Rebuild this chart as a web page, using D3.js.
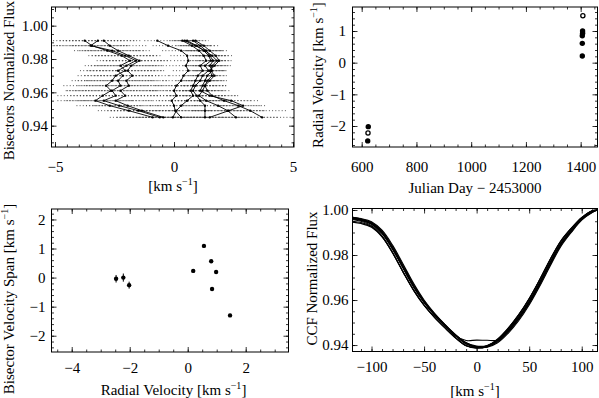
<!DOCTYPE html>
<html><head><meta charset="utf-8">
<script src="https://cdn.jsdelivr.net/npm/d3@7"></script>
<style>
html,body{margin:0;padding:0;background:#fff;}
svg{display:block;}
</style></head><body><svg id="c" width="599" height="398" style="font-family:'Liberation Serif','Times New Roman',serif;font-size:15px"></svg>
<script>
// ---------- DATA ----------
// Panel 1: line bisectors
const bisLevels = [0.991,0.988,0.985,0.982,0.979,0.976,0.973,0.970,0.967,0.964,0.961,0.958,0.955,0.952,0.949,0.945];
const bisA = [-3.75,-3.45,-2.8,-2.2,-1.85,-2.25,-2.05,-2.45,-2.6,-2.85,-2.65,-3.0,-3.3,-2.7,-1.9,-0.9];
const bisB = [-3.2,-3.5,-2.6,-2.05,-1.6,-2.0,-2.35,-2.15,-2.35,-2.25,-2.6,-2.45,-2.95,-2.3,-1.5,-0.6];
const bisC = [-2.95,-2.7,-2.35,-1.9,-1.45,-1.8,-1.95,-1.75,-2.0,-1.9,-2.25,-2.05,-2.45,-1.95,-1.35,-0.45];
const bisD = [-0.7,-0.25,0.3,0.55,0.6,0.5,0.6,0.4,0.3,0.1,0.0,0.1,-0.1,0.0,0.05,0.3];
const bisE = [0.35,0.75,1.05,1.25,1.35,1.1,1.2,1.0,0.9,0.8,0.7,0.8,0.55,0.3,0.1,-0.05];
const bisF = [0.55,0.95,1.25,1.45,1.55,1.3,1.45,1.2,1.1,0.9,0.8,0.95,1.1,1.3,1.3,1.3];
const bisG = [0.8,1.1,1.35,1.5,1.65,1.5,1.6,1.4,1.3,1.2,1.1,1.5,2.4,2.9,2.3,1.5];
const bisH = [0.9,1.25,1.5,1.75,1.9,1.7,1.5,1.6,1.4,1.3,1.2,1.05,1.35,1.85,2.25,2.6];
const bisI = [0.45,0.9,1.3,1.6,1.8,1.6,1.55,1.7,1.5,1.3,1.4,1.6,2.1,2.7,3.2,3.7];
const bisErrLeft  = [1.6,1.6,1.4,1.4,1.4,1.5,1.6,1.6,1.7,1.8,1.9,1.9,1.6,1.4,1.3,1.8];
const bisErrRight = [0.55,0.65,0.8,0.7,0.6,0.7,0.65,0.6,0.8,0.9,1.0,1.1,1.2,1.0,1.5,1.8];
const bisLeftGroup = [bisA, bisB, bisC];
const bisRightGroup = [bisD, bisE, bisF, bisG, bisH, bisI];
const bisXTicks = [-5, 0, 5];
const bisYTicks = [0.94, 0.96, 0.98, 1.00];

// Panel 2: radial velocity vs time
const rvJD   = [622, 623, 624, 1406, 1406, 1406, 1407, 1407, 1408];
const rvVal  = [-2.47, -2.22, -2.02, 0.21, 0.61, 0.85, 0.93, 1.00, 1.48];
const rvOpen = [false, true, false, false, false, false, false, false, true];
const rvXTicks = [600, 800, 1000, 1200, 1400];
const rvYTicks = [-2, -1, 0, 1];

// Panel 3: bisector velocity span vs RV
const bvsRV  = [-2.47, -2.22, -2.02, 0.19, 0.56, 0.81, 0.98, 0.84, 1.46];
const bvsVal = [-0.04, 0.00, -0.26, 0.23, 1.09, 0.56, 0.19, -0.39, -1.30];
const bvsErr = [0.13, 0.14, 0.12, 0.05, 0.06, 0.05, 0.05, 0.05, 0.05];
const bvsXTicks = [-4, -2, 0, 2];
const bvsYTicks = [-2, -1, 0, 1, 2];

// Panel 4: CCF profiles
const ccfV = [-118,-110,-100,-90,-80,-70,-60,-50,-40,-30,-20,-10,0,10,20,30,40,50,60,70,80,90,100,110,115];
const ccf1 = [0.9965,0.9958,0.9942,0.9902,0.9832,0.9748,0.9663,0.9592,0.9535,0.9486,0.9442,0.9406,0.9390,0.9393,0.9418,0.9462,0.9519,0.9589,0.9672,0.9762,0.9846,0.9906,0.9960,0.9991,1.0000];
const ccf2 = [0.9967,0.9960,0.9945,0.9906,0.9838,0.9754,0.9668,0.9596,0.9538,0.9489,0.9445,0.9409,0.9392,0.9392,0.9414,0.9457,0.9514,0.9584,0.9667,0.9757,0.9842,0.9903,0.9958,0.9990,1.0000];
const ccf3 = [0.9964,0.9957,0.9941,0.9900,0.9830,0.9745,0.9660,0.9590,0.9533,0.9485,0.9441,0.9405,0.9391,0.9396,0.9421,0.9466,0.9523,0.9593,0.9676,0.9766,0.9849,0.9909,0.9962,0.9992,1.0000];
const ccf4 = [0.9962,0.9955,0.9938,0.9897,0.9827,0.9742,0.9658,0.9589,0.9533,0.9486,0.9443,0.9410,0.9395,0.9398,0.9422,0.9467,0.9525,0.9596,0.9679,0.9769,0.9852,0.9911,0.9963,0.9993,1.0000];
const ccf5 = [0.9960,0.9953,0.9936,0.9895,0.9826,0.9742,0.9659,0.9591,0.9536,0.9489,0.9440,0.9420,0.9422,0.9421,0.9422,0.9462,0.9518,0.9588,0.9671,0.9762,0.9846,0.9908,0.9961,0.9997,1.0000];
const ccf6 = [0.9958,0.9950,0.9930,0.9885,0.9812,0.9726,0.9645,0.9578,0.9524,0.9477,0.9433,0.9398,0.9387,0.9395,0.9425,0.9474,0.9534,0.9606,0.9690,0.9780,0.9861,0.9918,0.9966,0.9995,1.0000];
const ccf7 = [0.9950,0.9944,0.9926,0.9882,0.9810,0.9725,0.9644,0.9577,0.9523,0.9476,0.9432,0.9397,0.9386,0.9394,0.9424,0.9472,0.9532,0.9604,0.9688,0.9778,0.9859,0.9916,0.9965,0.9996,1.0000];
const ccf8 = [0.9946,0.9940,0.9923,0.9880,0.9809,0.9724,0.9643,0.9576,0.9522,0.9475,0.9431,0.9397,0.9388,0.9397,0.9427,0.9475,0.9535,0.9607,0.9691,0.9781,0.9862,0.9919,0.9967,0.9997,1.0000];
const ccf9 = [0.9968,0.9962,0.9948,0.9910,0.9844,0.9760,0.9674,0.9600,0.9541,0.9491,0.9446,0.9410,0.9391,0.9390,0.9410,0.9452,0.9508,0.9578,0.9661,0.9751,0.9837,0.9900,0.9955,0.9989,1.0000];
const ccfCurves = [ccf1, ccf2, ccf3, ccf4, ccf5, ccf6, ccf7, ccf8, ccf9];
const ccfXTicks = [-100, -50, 0, 50, 100];
const ccfYTicks = [0.94, 0.96, 0.98, 1.00];

// ---------- DRAWING ----------
const FONT = "'Liberation Serif','Times New Roman',serif";
const svg = d3.select("#c");
svg.append("rect").attr("width", 599).attr("height", 398).attr("fill", "#fff");

let clipId = 0;
function makePanel(o) {
  const x = d3.scaleLinear().domain(o.xd).range([o.L, o.R]);
  const y = d3.scaleLinear().domain(o.yd).range([o.B, o.T]);
  const g = svg.append("g");
  const cid = "clip" + (clipId++);
  svg.append("clipPath").attr("id", cid).append("rect")
     .attr("x", o.L).attr("y", o.T).attr("width", o.R - o.L).attr("height", o.B - o.T);
  const plot = g.append("g").attr("clip-path", `url(#${cid})`);
  const add = (axis, tr) => {
    const a = g.append("g").attr("transform", tr).call(axis);
    a.select(".domain").remove();
    a.attr("font-size", null).attr("font-family", null);
    a.selectAll("line").attr("stroke", "#000").attr("stroke-width", 0.8);
    a.selectAll("text").style("font-family", FONT).style("font-size", "15px").attr("fill", "#000");
    return a;
  };
  const xMinor = d3.range(o.xMinorStart, o.xd[1] + 1e-9, o.xMinorStep);
  const yMinor = d3.range(o.yMinorStart, o.yd[1] + 1e-9, o.yMinorStep);
  add(d3.axisBottom(x).tickValues(o.xMajor).tickSize(-5).tickPadding(o.xpad).tickFormat(o.xfmt), `translate(0,${o.B})`);
  add(d3.axisBottom(x).tickValues(xMinor).tickSize(-2.5).tickFormat(""), `translate(0,${o.B})`);
  add(d3.axisTop(x).tickValues(o.xMajor).tickSize(-5).tickFormat(""), `translate(0,${o.T})`);
  add(d3.axisTop(x).tickValues(xMinor).tickSize(-2.5).tickFormat(""), `translate(0,${o.T})`);
  add(d3.axisLeft(y).tickValues(o.yMajor).tickSize(-5).tickPadding(o.ypad).tickFormat(o.yfmt), `translate(${o.L},0)`);
  add(d3.axisLeft(y).tickValues(yMinor).tickSize(-2.5).tickFormat(""), `translate(${o.L},0)`);
  add(d3.axisRight(y).tickValues(o.yMajor).tickSize(-5).tickFormat(""), `translate(${o.R},0)`);
  add(d3.axisRight(y).tickValues(yMinor).tickSize(-2.5).tickFormat(""), `translate(${o.R},0)`);
  g.append("rect").attr("x", o.L).attr("y", o.T).attr("width", o.R - o.L).attr("height", o.B - o.T)
   .attr("fill", "none").attr("stroke", "#000").attr("stroke-width", 1);
  return {x, y, g, plot};
}

function titleText(parent, x, y, pre, kms, post, rotate, size) {
  const t = parent.append("text").attr("text-anchor", "middle").attr("fill", "#000")
    .style("font-family", FONT).style("font-size", (size || 15) + "px")
    .attr("transform", rotate ? `translate(${x},${y}) rotate(-90)` : `translate(${x},${y})`);
  t.append("tspan").text(pre);
  if (kms) {
    t.append("tspan").text("[km s");
    t.append("tspan").style("font-size", "10px").attr("dy", -6).text("−1");
    t.append("tspan").attr("dy", 6).text("]");
  }
  if (post) t.append("tspan").text(post);
  return t;
}

const fInt = d3.format("d");
const f2 = d3.format(".2f");

// Panel 1
{
  const p = makePanel({L: 51.5, R: 294, T: 7, B: 147,
    xd: [-5.147, 5.04], yd: [0.9272, 1.0112],
    xMajor: bisXTicks, yMajor: bisYTicks,
    xMinorStart: -5, xMinorStep: 0.5, yMinorStart: 0.93, yMinorStep: 0.005,
    xpad: 14, ypad: 3.5, xfmt: fInt, yfmt: f2});
  const groups = [{list: bisLeftGroup, err: bisErrLeft}, {list: bisRightGroup, err: bisErrRight}];
  groups.forEach(gr => {
    gr.list.forEach(b => {
      b.forEach((v, i) => {
        p.plot.append("line")
          .attr("x1", p.x(v - gr.err[i])).attr("x2", p.x(v + gr.err[i]))
          .attr("y1", p.y(bisLevels[i])).attr("y2", p.y(bisLevels[i]))
          .attr("stroke", "#444").attr("stroke-width", 0.9).attr("stroke-dasharray", "1,2.2");
      });
    });
  });
  const line = d3.line().x(d => p.x(d[0])).y(d => p.y(d[1]));
  groups.forEach(gr => {
    gr.list.forEach(b => {
      const pts = b.map((v, i) => [v, bisLevels[i]]);
      p.plot.append("path").attr("d", line(pts)).attr("fill", "none")
        .attr("stroke", "#000").attr("stroke-width", 0.9);
      p.plot.selectAll(null).data(pts).enter().append("circle")
        .attr("cx", d => p.x(d[0])).attr("cy", d => p.y(d[1])).attr("r", 1.2).attr("fill", "#000");
    });
  });
  titleText(svg, 173, 191, "", true, "", false);
  titleText(svg, 14, 80.5, "Bisectors Normalized Flux", false, "", true, 14.8);
}

// Panel 2
{
  const p = makePanel({L: 352.5, R: 597.5, T: 7, B: 147,
    xd: [566.4, 1461.5], yd: [-2.663, 1.758],
    xMajor: rvXTicks, yMajor: rvYTicks,
    xMinorStart: 600, xMinorStep: 50, yMinorStart: -2.6, yMinorStep: 0.2,
    xpad: 14, ypad: 6.5, xfmt: fInt, yfmt: fInt});
  rvVal.forEach((v, i) => {
    const c = p.plot.append("circle").attr("cx", p.x(rvJD[i])).attr("cy", p.y(v));
    if (rvOpen[i]) c.attr("r", 2.1).attr("fill", "#fff").attr("stroke", "#000").attr("stroke-width", 1.3);
    else c.attr("r", 2.7).attr("fill", "#000");
  });
  titleText(svg, 475, 193, "Julian Day − 2453000", false, "", false);
  titleText(svg, 323, 75, "Radial Velocity ", true, "", true);
}

// Panel 3
{
  const p = makePanel({L: 51.5, R: 288.5, T: 209, B: 352,
    xd: [-4.697, 3.476], yd: [-2.56, 2.36],
    xMajor: bvsXTicks, yMajor: bvsYTicks,
    xMinorStart: -4.5, xMinorStep: 0.5, yMinorStart: -2.4, yMinorStep: 0.2,
    xpad: 10.5, ypad: 6, xfmt: fInt, yfmt: fInt});
  bvsVal.forEach((v, i) => {
    p.plot.append("line").attr("x1", p.x(bvsRV[i])).attr("x2", p.x(bvsRV[i]))
      .attr("y1", p.y(v - bvsErr[i])).attr("y2", p.y(v + bvsErr[i]))
      .attr("stroke", "#000").attr("stroke-width", 1);
    p.plot.append("circle").attr("cx", p.x(bvsRV[i])).attr("cy", p.y(v)).attr("r", 2.2).attr("fill", "#000");
  });
  titleText(svg, 173.5, 395, "Radial Velocity ", true, "", false);
  titleText(svg, 13.5, 299, "Bisector Velocity Span ", true, "", true);
}

// Panel 4
{
  const p = makePanel({L: 352.5, R: 597.5, T: 208.5, B: 351.5,
    xd: [-118.1, 115.0], yd: [0.93713, 1.00066],
    xMajor: ccfXTicks, yMajor: ccfYTicks,
    xMinorStart: -110, xMinorStep: 10, yMinorStart: 0.94, yMinorStep: 0.005,
    xpad: 10, ypad: 4, xfmt: fInt, yfmt: f2});
  const line = d3.line().x((d, i) => p.x(ccfV[i])).y(d => p.y(d)).curve(d3.curveCatmullRom);
  ccfCurves.forEach(c => {
    p.plot.append("path").attr("d", line(c)).attr("fill", "none")
      .attr("stroke", "#000").attr("stroke-width", 1.1);
  });
  titleText(svg, 475, 396, "", true, "", false);
  titleText(svg, 316.5, 278.5, "CCF Normalized Flux", false, "", true);
}
</script></body></html>
